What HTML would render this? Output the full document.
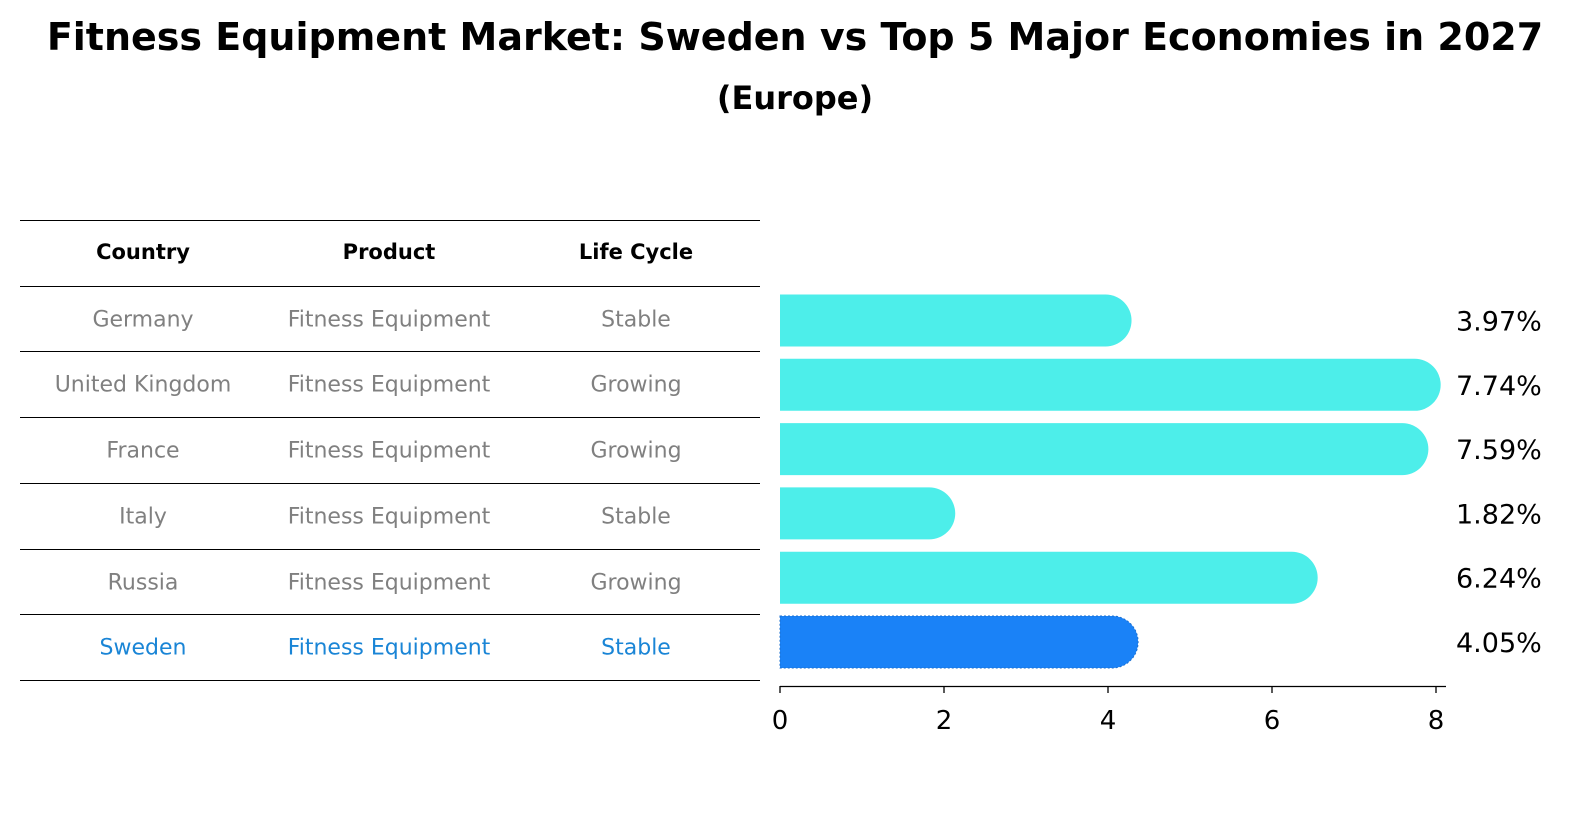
<!DOCTYPE html>
<html><head><meta charset="utf-8"><style>
body{margin:0;background:#fff;font-family:"Liberation Sans","DejaVu Sans",sans-serif;}
svg text{font-family:"DejaVu Sans","Liberation Sans",sans-serif;}
</style></head><body>
<svg id="chart" width="1592" height="823" viewBox="0 0 1592 823" xmlns="http://www.w3.org/2000/svg">
<text x="795" y="50" text-anchor="middle" font-size="38" font-weight="bold">Fitness Equipment Market: Sweden vs Top 5 Major Economies in 2027</text>
<text x="795" y="109" text-anchor="middle" font-size="32" font-weight="bold">(Europe)</text>
<g id="table"></g>
<g id="bars"></g>
<g id="axis"></g>
</svg>
<script>
const countries=["Germany","United Kingdom","France","Italy","Russia","Sweden"];
const products=["Fitness Equipment","Fitness Equipment","Fitness Equipment","Fitness Equipment","Fitness Equipment","Fitness Equipment"];
const lifeCycles=["Stable","Growing","Growing","Stable","Growing","Stable"];
const values=[3.97,7.74,7.59,1.82,6.24,4.05];
const ticks=[0,2,4,6,8];
const NS="http://www.w3.org/2000/svg";
function mk(tag,attrs,parent,text){const e=document.createElementNS(NS,tag);for(const k in attrs)e.setAttribute(k,attrs[k]);if(text!==undefined)e.textContent=text;parent.appendChild(e);return e;}
const x=v=>780+v*82;
const rowY=i=>320.5+i*64.3;
const tbl=document.getElementById('table');
const lineYs=[220.5,286.5,351.5,417.5,483.5,549.5,614.5,680.5];
lineYs.forEach(y=>{const l=mk('line',{x1:20,x2:760,y1:y,y2:y,stroke:'#000','stroke-width':1},tbl);

});
const colX=[143,389,636];
["Country","Product","Life Cycle"].forEach((h,j)=>{const t=mk('text',{x:colX[j],y:259,'text-anchor':'middle','font-size':21,'font-weight':'bold'},tbl,h);

});
countries.forEach((c,i)=>{const y=lineYs[i+1]+40;const col=c==="Sweden"?'#1a85d6':'#808080';
[c,products[i],lifeCycles[i]].forEach((v,j)=>{const t=mk('text',{x:colX[j],y:y,'text-anchor':'middle','font-size':22,fill:col},tbl,v);

});});
const bars=document.getElementById('bars');
const h=52,r=26;
values.forEach((v,i)=>{const cy=rowY(i);const col=countries[i]==="Sweden"?'#1a82f7':'#4deeea';
const p=mk('path',{d:`M${x(0)},${cy-h/2} H${x(v)} A${r},${r} 0 0 1 ${x(v)},${cy+h/2} H${x(0)} Z`,fill:col},bars);
if(countries[i]==="Sweden"){p.setAttribute('stroke','#1a6fd0');p.setAttribute('stroke-dasharray','2,2');}


const t=mk('text',{x:1456,y:cy+10,'font-size':27},bars,v.toFixed(2)+'%');

});
const ax=document.getElementById('axis');
const al=mk('line',{x1:780,x2:1446,y1:686.5,y2:686.5,stroke:'#000','stroke-width':1.3},ax);


ticks.forEach(tv=>{const tk=mk('line',{x1:x(tv),x2:x(tv),y1:686,y2:693,stroke:'#000','stroke-width':1.3},ax);


const t=mk('text',{x:x(tv),y:729,'text-anchor':'middle','font-size':26},ax,String(tv));

});
</script>
</body></html>
